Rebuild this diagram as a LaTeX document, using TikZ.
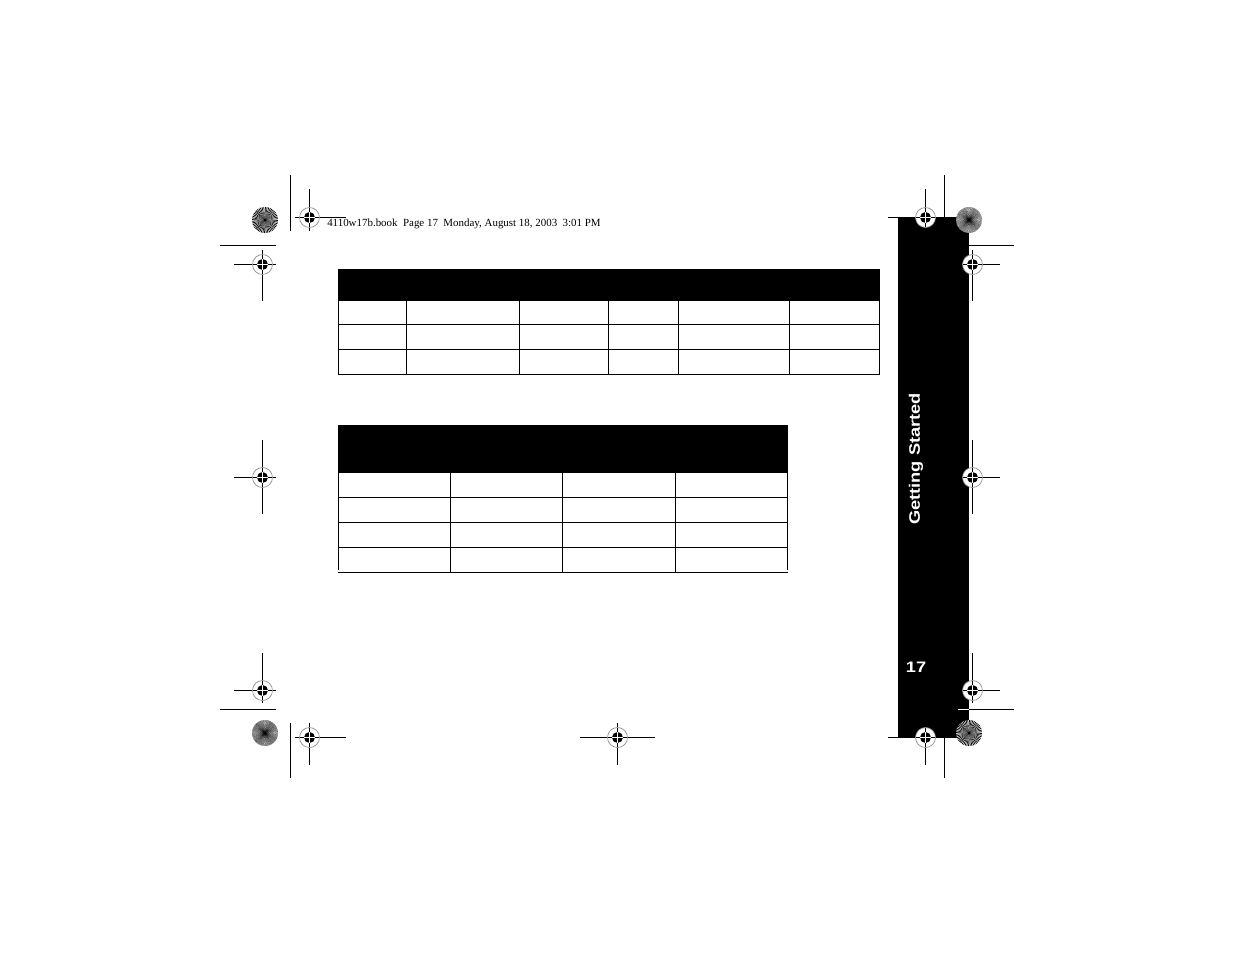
\documentclass[tikz,border=0pt]{standalone}
\usepackage{fontspec}
\setmainfont{Liberation Serif}
\newfontfamily\tabfont[FakeStretch=1.2]{Liberation Sans}
\usepackage{tikz}
\usetikzlibrary{calc}

\newcommand{\regmark}[7]{% name, x, y, left, right, top, bottom
    \fill[white] (#2,#3) circle (10);
    \draw[crop] (#4,#3) -- (#5,#3);
    \draw[crop] (#2,#6) -- (#2,#7);
    \draw[ring] (#2,#3) circle (10);
    \fill (#2,#3) circle (5.5);
    \draw[white, line width=.5pt] (#2-5.5,#3) -- (#2+5.5,#3) (#2,#3-5.5) -- (#2,#3+5.5);
    \coordinate (#1) at (#2,#3);
}
\newcommand{\sunburst}[5]{% name, x, y, step, wedge
    \fill[white] (#2,#3) circle (13);
    \foreach \ang in {0,#4,...,359} {
        \fill[black] (#2,#3) -- ++(\ang:13) -- ($(#2,#3)+(\ang+#5:13)$) -- cycle;
    }
    \coordinate (#1) at (#2,#3);
}

\begin{document}
\begin{tikzpicture}[
    x=.75pt, y=-.75pt,
    crop/.style={draw=black, line width=.8pt},
    ring/.style={draw=black!45, line width=.5pt},
    gridline/.style={draw=black, line width=.8pt},
    headbar/.style={fill=black},
    sidetext/.style={text=white, font=\tabfont\bfseries\fontsize{11.4}{13}\selectfont, inner sep=0pt}
    ]
    \useasboundingbox (0,0) rectangle (1235,954);
    \fill[white] (0,0) rectangle (1235,954);

    % Side tab
    \fill[headbar] (898,217) rectangle (969,737.5);
    \node[sidetext, rotate=90] (tabtitle) at (916,459) {Getting Started};
    \node[sidetext] (tabpage) at (916,667.5) {17};

    % First table
    \fill[headbar] (338,269) rectangle (880,300);
    \draw[gridline] (338.5,300) rectangle (879.5,374.5);
    \foreach \ypos in {324.5,349.5} {
        \draw[gridline] (338,\ypos) -- (880,\ypos);
    }
    \foreach \xpos in {406.5,519.5,608.5,678.5,789.5} {
        \draw[gridline] (\xpos,300) -- (\xpos,374.5);
    }

    % Second table
    \fill[headbar] (338,425) rectangle (788,473);
    \draw[gridline] (338.5,473) -- (338.5,570);
    \draw[gridline] (787.5,473) -- (787.5,570);
    \foreach \ypos in {497.5,522.5,547.5,572.5} {
        \draw[gridline] (338,\ypos) -- (788,\ypos);
    }
    \foreach \xpos in {450.5,562.5,675.5} {
        \draw[gridline] (\xpos,473) -- (\xpos,572.5);
    }

    % Header line
    \node[inner sep=0pt, anchor=west, font=\fontsize{8.2}{10}\selectfont] (bookline) at (327,224)
        {4110w17b.book\ \ Page 17\ \ Monday, August 18, 2003\ \ 3:01 PM};

    % Crop lines
    \draw[crop] (290.5,175) -- (290.5,231);
    \draw[crop] (220,245.5) -- (276,245.5);
    \draw[crop] (944.5,175) -- (944.5,217);
    \draw[crop] (969,245.5) -- (1014,245.5);
    \draw[crop] (220,709.5) -- (276,709.5);
    \draw[crop] (290.5,723) -- (290.5,778);
    \draw[crop] (969,709.5) -- (1014,709.5);
    \draw[crop, white] (958,709.5) -- (969,709.5);
    \draw[crop] (944.5,737) -- (944.5,778);

    % Sunbursts
    \sunburst{burstnw}{265}{220}{7.5}{3.75}
    \sunburst{burstse}{969}{733}{7.5}{3.75}
    \sunburst{burstne}{969}{220}{3}{.8}
    \sunburst{burstsw}{265}{733}{3}{1}

    % Registration marks
    \regmark{marknw}{309.5}{217.5}{295}{346}{189}{231}
    \regmark{markwn}{262.5}{264.5}{234}{276}{250}{301}
    \regmark{markw}{262.5}{477.5}{234}{276}{440}{514}
    \regmark{markws}{262.5}{690.5}{234}{276}{653}{703}
    \regmark{marksw}{309.5}{737.5}{295}{346}{723}{765}
    \regmark{marks}{617.5}{737.5}{580}{655}{723}{765}
    \regmark{markse}{925.5}{737.5}{888}{938}{724}{765}
    \regmark{markes}{972.5}{690.5}{960}{1000}{653}{703}
    \regmark{marke}{972.5}{477.5}{960}{1000}{440}{514}
    \regmark{markne}{972.5}{264.5}{960}{1000}{250}{301}
    \regmark{marken}{925.5}{217.5}{888}{938}{189}{231}
\end{tikzpicture}
\end{document}
